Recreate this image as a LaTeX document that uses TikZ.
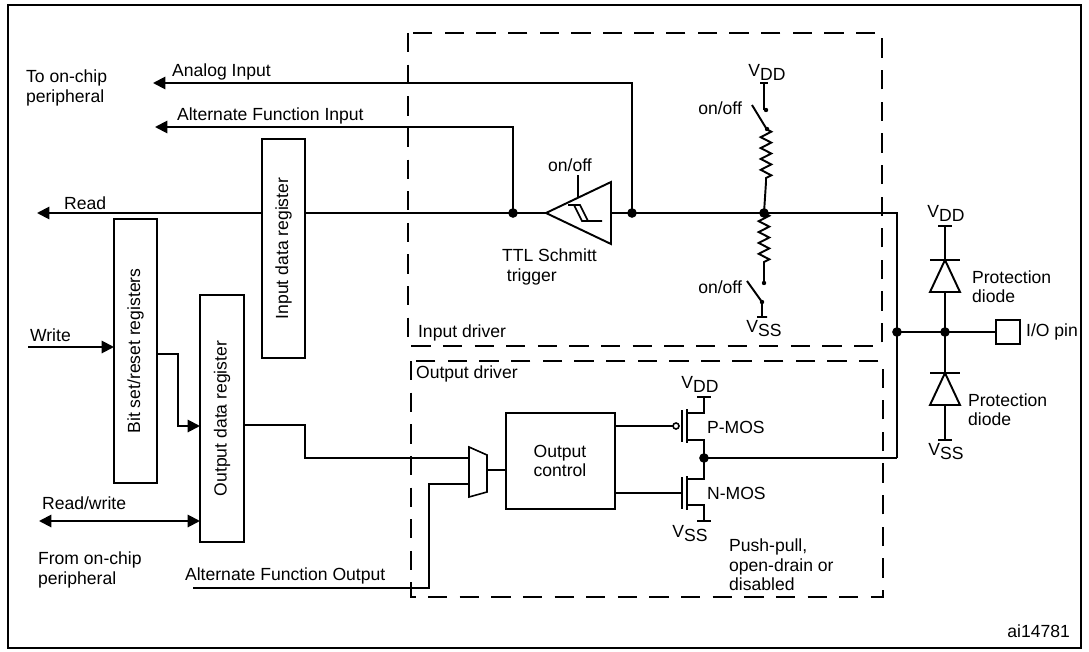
\documentclass[tikz,border=0pt]{standalone}
\usepackage{fontspec}
\setmainfont{Liberation Sans}
\usetikzlibrary{calc,arrows.meta,decorations.pathmorphing}
\tikzset{
  wire/.style={line width=1.1pt},
  arr/.style={wire,-{Triangle[length=7pt,width=7pt]}},
  box/.style={draw,line width=1.1pt,fill=white,inner sep=0pt},
  dashbox/.style={line width=1pt,dash pattern=on 11pt off 7pt},
  dot/.style={circle,fill,inner sep=0pt,minimum size=5.5pt},
  res/.style={wire,decorate,decoration={zigzag,segment length=6.2pt,amplitude=3pt}},
  lbl/.style={inner sep=1pt,font=\fontsize{10}{11}\selectfont,align=left},
}
\newcommand{\Vdd}{V\raisebox{-.45ex}{DD}}
\newcommand{\Vss}{V\raisebox{-.45ex}{SS}}
\begin{document}
\begin{tikzpicture}[x=0.02cm,y=-0.02cm]
      \useasboundingbox (0,0) rectangle (1089,652);
      \draw[line width=1pt] (8,5) rectangle (1081,648);
      % driver boxes
      \draw[dashbox] (408,33) rectangle (882,346);
      \draw[dashbox] (411,361) rectangle (883,597);
      \node[lbl,anchor=south west] at (416,343) {Input driver};
      \node[lbl,anchor=north west] at (414,364) {Output driver};
      % registers
      \coordinate (IDRa) at (262,139); \coordinate (IDRb) at (305,358);
      \coordinate (BSRa) at (114,219); \coordinate (BSRb) at (157,483);
      \coordinate (ODRa) at (200,295); \coordinate (ODRb) at (244,542);
      % input side
      \coordinate (rdL) at (37,213);
      \coordinate (afiJ) at (513,213);
      \coordinate (anJ) at (632,213);
      \coordinate (puJ) at (764,213);
      \coordinate (busT) at (897,213);
      \coordinate (busM) at (897,332);
      \coordinate (busB) at (897,458);
      \draw[arr] (busT) -- (rdL);
      \node[lbl,anchor=south west] at (62,212) {Read};
      \draw[arr] (afiJ) -- (513,127) -- (155,127);
      \node[lbl,anchor=south west] at (175,126) {Alternate Function Input};
      \draw[arr] (anJ) -- (632,83) -- (153,83);
      \node[lbl,anchor=south west] at (170,82) {Analog Input};
      \node[lbl,anchor=north west] at (24,68) {To on-chip\\peripheral};
      \draw[box] (IDRa) rectangle (IDRb);
      \node[lbl,rotate=90] at ($(IDRa)!.5!(IDRb)$) {Input data register};
      \node[dot] at (afiJ) {}; \node[dot] at (anJ) {}; \node[dot] at (puJ) {};
      % Schmitt trigger
      \draw[wire,fill=white] (546,213) -- (611,182) -- (611,244) -- cycle;
      \draw[wire] (578,175) -- (578,198);
      \draw[line width=.9pt] (568,205) -- (580,205) -- (588,221) -- (602,221);
      \draw[line width=.9pt] (574,205) -- (582,221) -- (588,221);
      \node[lbl,anchor=south] at (570,174) {on/off};
      \node[lbl,anchor=north west] at (500,247) {TTL Schmitt\\\ trigger};
      % pull-up / pull-down
      \draw[wire] (760,83) -- (768,83) (764,83) -- (764,110);
      \draw[wire] (752,105) -- (766,128);
      \draw[res] (766,129) -- (766,137) -- (766,182);
      \draw[wire] (766,182) -- (puJ);
      \draw[res] (puJ) -- (764,225) -- (764,263);
      \draw[wire] (764,263) -- (764,283);
      \draw[wire] (747,281) -- (762,302) -- (762,317) (757,317) -- (767,317);
      \foreach \p in {(766,110),(767,129),(764,283),(762,302)} \fill \p circle (2.2);
      \node[lbl,anchor=south] at (767,83) {\Vdd};
      \node[lbl,anchor=north] at (764,318) {\Vss};
      \node[lbl,anchor=east] at (744,108) {on/off};
      \node[lbl,anchor=east] at (744,287) {on/off};
      % right bus and protection
      \draw[wire] (puJ) -- (busT) -- (busB);
      \coordinate (dJ) at (945,332);
      \node[dot] at (busM) {}; \node[dot] at (dJ) {};
      \node[draw,line width=1pt,minimum size=0.48cm,inner sep=0pt] (pin) at (1008,332) {};
      \draw[wire] (busM) -- (dJ) -- (pin.west);
      \node[lbl,anchor=west] at (1024,332) {I/O pin};
      \draw[wire] (938,226) -- (952,226) (945,226) -- (945,440) (938,440) -- (952,440);
      \foreach \y in {260,373} {
        \draw[wire] (930,\y) -- (960,\y);
        \draw[wire,fill=white] (945,\y) -- (930,\y+32) -- (960,\y+32) -- cycle;
      }
      \node[lbl,anchor=south] at (946,224) {\Vdd};
      \node[lbl,anchor=north] at (946,441) {\Vss};
      \node[lbl,anchor=west] at (970,287) {Protection\\diode};
      \node[lbl,anchor=west] at (966,410) {Protection\\diode};
      % write side
      \draw[box] (BSRa) rectangle (BSRb);
      \node[lbl,rotate=90] at ($(BSRa)!.5!(BSRb)$) {Bit set/reset registers};
      \draw[arr] (28,347) -- (114,347);
      \node[lbl,anchor=south west] at (28,344) {Write};
      \draw[box] (ODRa) rectangle (ODRb);
      \node[lbl,rotate=90] at ($(ODRa)!.5!(ODRb)$) {Output data register};
      \draw[arr] (157,354) -- (178,354) -- (178,426) -- (200,426);
      \draw[wire,{Triangle[length=7pt,width=7pt]}-{Triangle[length=7pt,width=7pt]}] (39,521) -- (200,521);
      \node[lbl,anchor=south west] at (40,512) {Read/write};
      \node[lbl,anchor=north west] at (36,550) {From on-chip\\peripheral};
      % output path
      \draw[wire] (244,425) -- (305,425) -- (305,458) -- (469,458);
      \draw[wire] (193,588) -- (429,588) -- (429,484) -- (469,484);
      \node[lbl,anchor=south west] at (183,586) {Alternate Function Output};
      \draw[line width=.9pt] (469,447) -- (487,455) -- (487,492) -- (469,497) -- cycle;
      \draw[wire] (487,470) -- (506,470);
      \draw[wire] (506,413) rectangle (615,509);
      \node[lbl,align=center] at (560,461) {Output\\control};
      % MOS pair
      \coordinate (oN) at (704,458);
      \draw[wire] (615,426) -- (673,426);
      \draw[line width=.9pt] (676,426) circle (3);
      \draw[wire] (682,410) -- (682,442) (687,409) -- (687,443);
      \draw[wire] (687,413) -- (704,413) -- (704,397) (697,397) -- (711,397);
      \draw[wire] (687,440) -- (704,440) -- (oN);
      \draw[wire] (615,493) -- (682,493) (682,477) -- (682,509) (687,476) -- (687,510);
      \draw[wire] (687,479) -- (704,479) -- (oN);
      \draw[wire] (687,505) -- (704,505) -- (704,521) (697,521) -- (711,521);
      \draw[wire] (oN) -- (busB);
      \node[dot] at (oN) {};
      \node[lbl,anchor=south] at (700,395) {\Vdd};
      \node[lbl,anchor=north] at (690,523) {\Vss};
      \node[lbl,anchor=west] at (705,427) {P-MOS};
      \node[lbl,anchor=west] at (705,493) {N-MOS};
      \node[lbl,anchor=north west] at (727,537) {Push-pull,\\open-drain or\\disabled};
      \node[lbl,anchor=south east] at (1072,640) {ai14781};
\end{tikzpicture}
\end{document}
